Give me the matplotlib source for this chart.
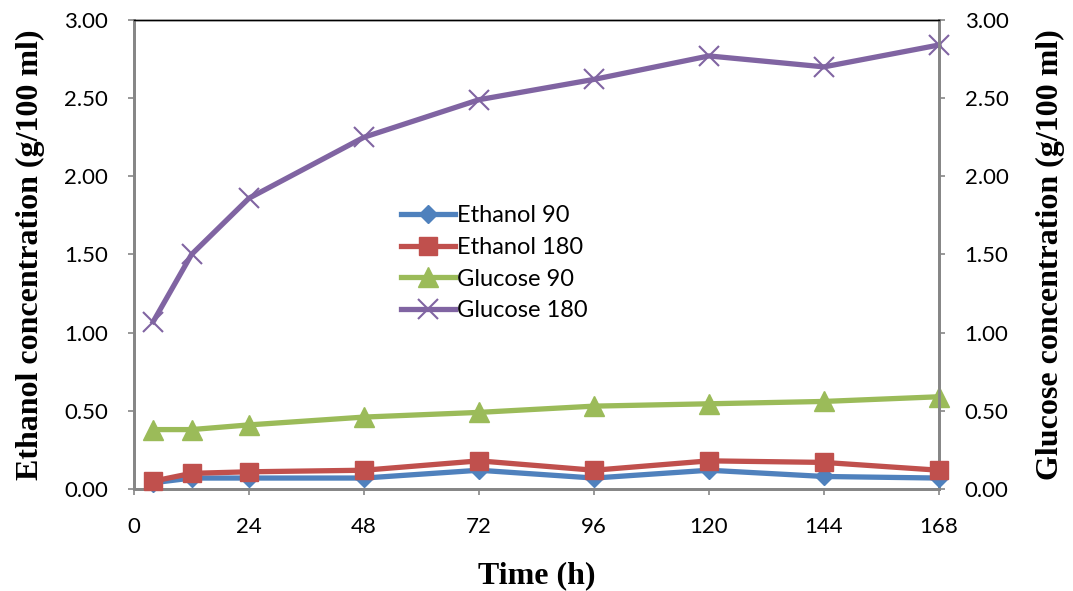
import matplotlib
matplotlib.use("Agg")
import matplotlib.pyplot as plt
from matplotlib.ticker import FixedLocator, FormatStrFormatter

# Sampling times (h)
time_h = [4, 12, 24, 48, 72, 96, 120, 144, 168]

# Ethanol concentration (g/100 ml)
ethanol_90 = [0.04, 0.07, 0.07, 0.07, 0.12, 0.07, 0.12, 0.08, 0.07]
ethanol_180 = [0.05, 0.10, 0.11, 0.12, 0.18, 0.12, 0.18, 0.17, 0.12]

# Glucose concentration (g/100 ml)
glucose_90 = [0.38, 0.38, 0.41, 0.46, 0.49, 0.53, 0.545, 0.56, 0.59]
glucose_180 = [1.07, 1.50, 1.86, 2.25, 2.49, 2.62, 2.77, 2.70, 2.84]

x_ticks = [0, 24, 48, 72, 96, 120, 144, 168]
y_ticks = [0.0, 0.5, 1.0, 1.5, 2.0, 2.5, 3.0]

blue = "#4F81BD"
red = "#C0504D"
green = "#9BBB59"
purple = "#8064A2"
axis_grey = "#868686"

tick_font = "Lato"
label_font = "Liberation Serif"

fig = plt.figure(figsize=(10.73, 5.91), dpi=100)
ax = fig.add_axes([0.1249, 0.1726, 0.7502, 0.7936])
ax2 = ax.twinx()

lw = 3.8
h1, = ax.plot(time_h, ethanol_90, color=blue, lw=lw, marker="D",
              markersize=9, markeredgecolor=blue, label="Ethanol 90",
              zorder=3, clip_on=False)
h2, = ax.plot(time_h, ethanol_180, color=red, lw=lw, marker="s",
              markersize=13, markeredgecolor=red, label="Ethanol 180",
              zorder=4, clip_on=False)
h3, = ax2.plot(time_h, glucose_90, color=green, lw=lw, marker="^",
               markersize=14, markeredgecolor=green, label="Glucose 90",
               zorder=3, clip_on=False)
h4, = ax2.plot(time_h, glucose_180, color=purple, lw=lw, marker="x",
               markersize=14, markeredgewidth=1.5, markeredgecolor=purple,
               label="Glucose 180", zorder=4, clip_on=False)

for a in (ax, ax2):
    a.set_xlim(0, 168)
    a.set_ylim(0, 3.0)
    a.yaxis.set_major_locator(FixedLocator(y_ticks))
    a.yaxis.set_major_formatter(FormatStrFormatter("%.2f"))
    for s in a.spines.values():
        s.set_color(axis_grey)
        s.set_linewidth(2)
    a.spines["top"].set_color("black")
    a.spines["top"].set_linewidth(1)
    a.tick_params(axis="both", direction="out", length=4.5, width=1.2,
                  color=axis_grey, labelsize=16, pad=14)
    for lab in a.get_yticklabels():
        lab.set_fontfamily(tick_font)

ax.xaxis.set_major_locator(FixedLocator(x_ticks))
ax.set_xticklabels([str(t) for t in x_ticks], fontfamily=tick_font, fontsize=16)
ax.tick_params(axis="x", pad=16)

ax.set_xlabel("Time (h)", fontfamily=label_font, fontweight="bold",
              fontsize=23, labelpad=17)
ax.set_ylabel("Ethanol concentration (g/100 ml)", fontfamily=label_font,
              fontweight="bold", fontsize=23, labelpad=14)
ax2.set_ylabel("Glucose concentration (g/100 ml)", fontfamily=label_font,
               fontweight="bold", fontsize=23, labelpad=20)

ax.set_zorder(ax2.get_zorder() + 1)
ax.patch.set_visible(False)

leg = ax.legend(handles=[h1, h2, h3, h4], loc="upper left",
                bbox_to_anchor=(0.32, 0.625), frameon=False,
                prop={"family": tick_font, "size": 17},
                handlelength=2.3, handletextpad=0.05, labelspacing=0.45,
                borderaxespad=0)

fig.savefig("out.png", dpi=100)
